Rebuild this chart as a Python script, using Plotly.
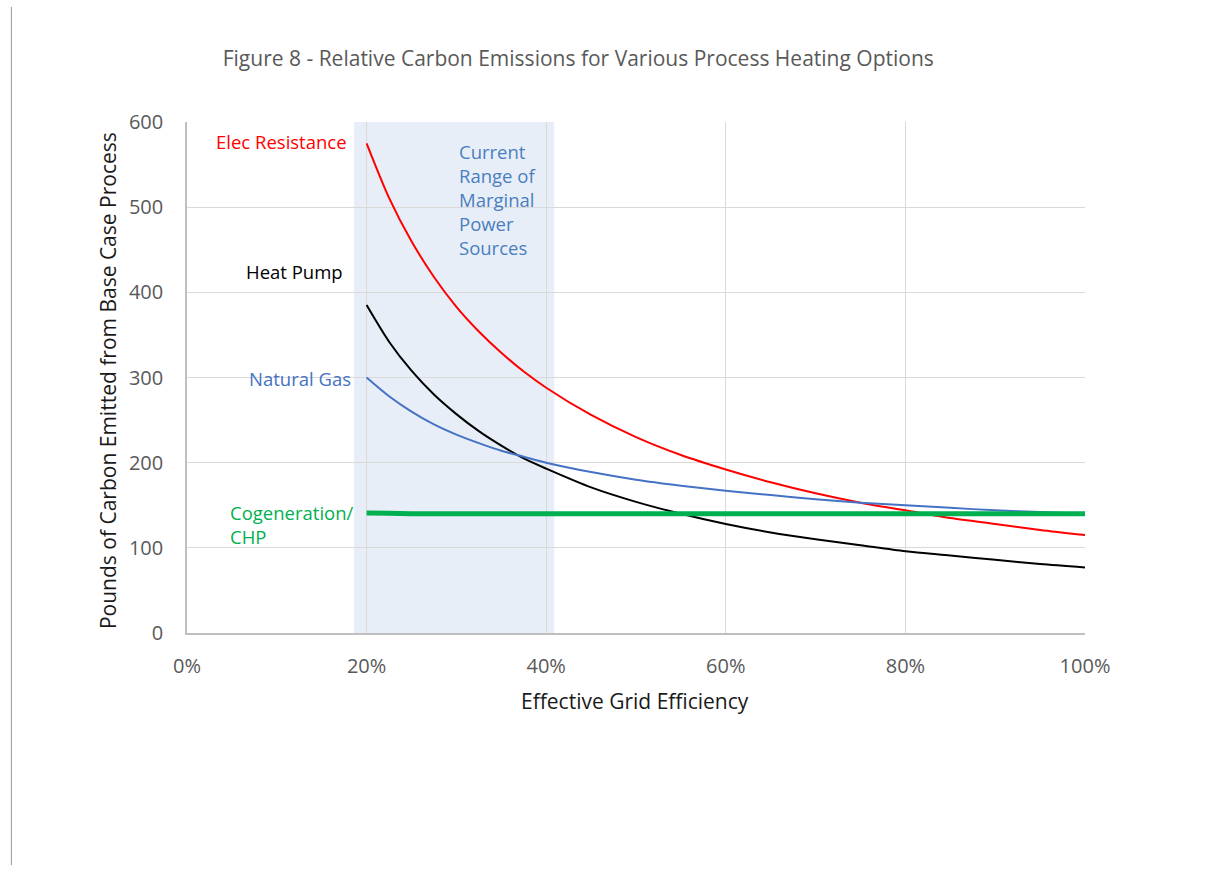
import plotly.graph_objects as go

# Effective grid efficiency (fraction) at which each option is evaluated
efficiency = [0.20, 0.225, 0.25, 0.275, 0.30, 0.325, 0.35, 0.375, 0.40,
              0.45, 0.50, 0.55, 0.60, 0.65, 0.70, 0.75, 0.80,
              0.85, 0.90, 0.95, 1.00]

# Pounds of carbon emitted, relative to the base case process
elec_resistance = [575, 511, 460, 418, 383, 354, 329, 307, 288,
                   256, 230, 209, 192, 177, 164, 153, 144,
                   135, 128, 121, 115]
heat_pump = [385, 342, 308, 280, 257, 237, 220, 205, 193,
             171, 154, 140, 128, 118, 110, 103, 96,
             91, 86, 81, 77]
natural_gas = [300, 278, 260, 245, 233, 223, 214, 207, 200,
               189, 180, 173, 167, 162, 157, 153, 150,
               147, 144, 142, 140]
cogeneration = [141, 140.5, 140, 140, 140, 140, 140, 140, 140,
                140, 140, 140, 140, 140, 140, 140, 140,
                140, 140, 140, 140]

# Band of current marginal power sources
marginal_range = [0.186, 0.409]

x_ticks = [0.0, 0.2, 0.4, 0.6, 0.8, 1.0]
y_ticks = [0, 100, 200, 300, 400, 500, 600]

FONT = "Open Sans"
GREY = "#595959"
RED = "#FF0000"
BLACK = "#000000"
BLUE = "#4472C4"
GREEN = "#00B050"

fig = go.Figure()

series = [
    ("Elec Resistance", elec_resistance, RED, 2),
    ("Heat Pump", heat_pump, BLACK, 2),
    ("Natural Gas", natural_gas, BLUE, 2),
    ("Cogeneration/CHP", cogeneration, GREEN, 5),
]
for name, values, color, width in series:
    fig.add_trace(go.Scatter(
        x=efficiency, y=values, name=name, mode="lines",
        line=dict(color=color, width=width, shape="spline", smoothing=0.8),
        hoverinfo="x+y+name",
    ))

# Shaded band behind the gridlines
fig.add_shape(type="rect", xref="x", yref="y",
              x0=marginal_range[0], x1=marginal_range[1], y0=0, y1=600,
              fillcolor="#E8EEF8", line=dict(width=0), layer="below")

# Thin rule down the left edge of the page
fig.add_shape(type="line", xref="paper", yref="paper",
              x0=-0.1955, x1=-0.1955, y0=1.225, y1=-0.454,
              line=dict(color="#A6A6A6", width=1.2))

labels = [
    dict(x=0.180, y=577, text="Elec Resistance", color=RED, xanchor="right"),
    dict(x=0.176, y=425, text="Heat Pump", color=BLACK, xanchor="right"),
    dict(x=0.185, y=299, text="Natural Gas", color=BLUE, xanchor="right"),
    dict(x=0.046, y=127, text="Cogeneration/<br>CHP", color=GREEN, xanchor="left"),
    dict(x=0.301, y=509, text="Current<br>Range of<br>Marginal<br>Power<br>Sources",
         color="#4A7EC0", xanchor="left"),
]
for lab in labels:
    fig.add_annotation(x=lab["x"], y=lab["y"], xref="x", yref="y",
                       text=lab["text"], showarrow=False, align="left",
                       xanchor=lab["xanchor"], yanchor="middle",
                       font=dict(family=FONT, size=18.5, color=lab["color"]))

# Axis titles
fig.add_annotation(x=-0.088, y=0.495, xref="paper", yref="paper",
                   xanchor="center", yanchor="middle",
                   text="Pounds of Carbon Emitted from Base Case Process",
                   textangle=-90, showarrow=False,
                   font=dict(family=FONT, size=21, color="#1A1A1A"))
fig.add_annotation(x=0.499, y=-0.133, xref="paper", yref="paper",
                   xanchor="center", yanchor="middle",
                   text="Effective Grid Efficiency", showarrow=False,
                   font=dict(family=FONT, size=21, color="#1A1A1A"))

fig.update_layout(
    width=1206, height=874,
    margin=dict(l=187, r=121, t=122, b=241),
    paper_bgcolor="white", plot_bgcolor="white",
    showlegend=False,
    title=dict(text="Figure 8 - Relative Carbon Emissions for Various Process Heating Options",
               x=0.4795, xanchor="center", y=0.9325, yanchor="middle",
               font=dict(family=FONT, size=21, color=GREY)),
    font=dict(family=FONT),
)
fig.update_xaxes(range=[0, 1], tickvals=x_ticks, tickformat=".0%",
                 showgrid=True, gridcolor="#D9D9D9", gridwidth=1,
                 showline=True, linecolor="#BFBFBF", linewidth=1.5, mirror=False,
                 zeroline=False, ticks="", ticklabelstandoff=14,
                 tickfont=dict(family=FONT, size=20, color=GREY))
fig.update_yaxes(range=[0, 600], tickvals=y_ticks,
                 showgrid=True, gridcolor="#D9D9D9", gridwidth=1,
                 showline=True, linecolor="#BFBFBF", linewidth=1.5, mirror=False,
                 zeroline=False, ticks="", ticklabelstandoff=18,
                 tickfont=dict(family=FONT, size=20, color=GREY))

fig.write_html("out.html")
